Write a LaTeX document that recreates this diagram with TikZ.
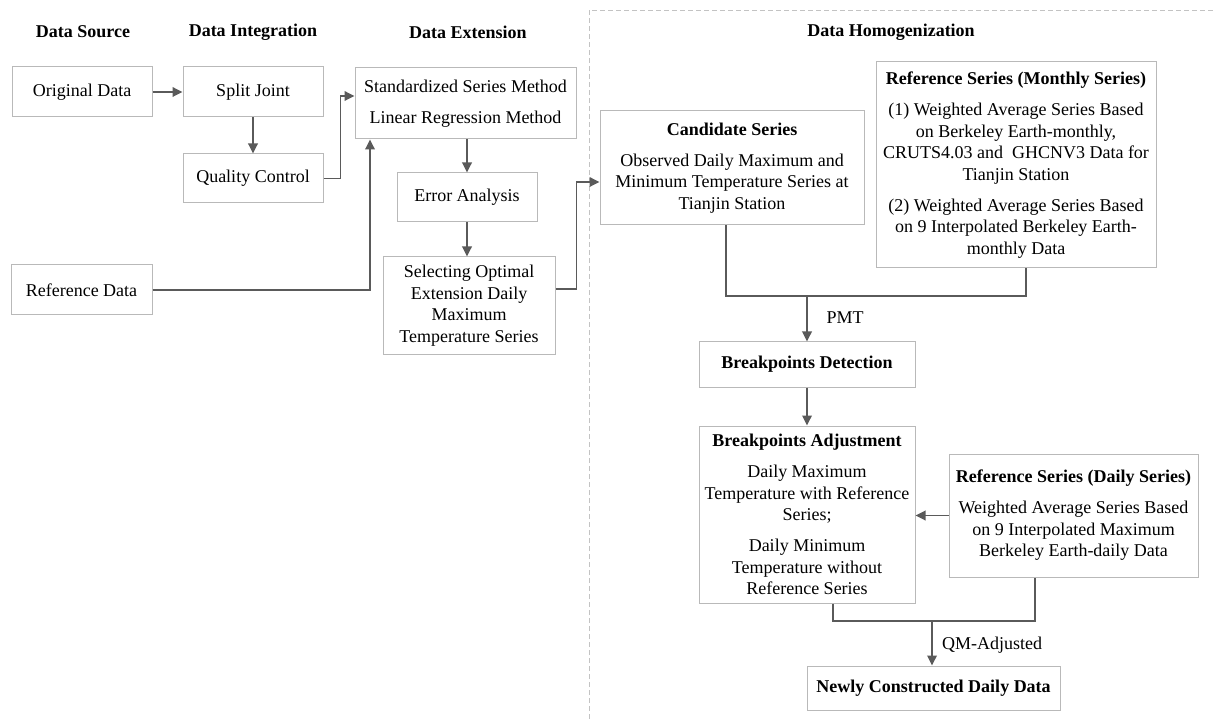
\documentclass[tikz,border=0pt]{standalone}
\usepackage{fontspec}
\setmainfont{Liberation Serif}
\usetikzlibrary{arrows.meta,calc}
\definecolor{boxgray}{RGB}{185,185,185}
\definecolor{arrgray}{RGB}{90,90,90}
\definecolor{dashgray}{RGB}{195,195,195}
\newcommand{\fsz}{\fontsize{18}{21.5}\selectfont}
\begin{document}
\begin{tikzpicture}[x=1pt,y=-1pt,
  box/.style={draw=boxgray, line width=1pt, fill=white, inner sep=0pt, align=center, font=\fsz},
  head/.style={inner sep=0pt, font=\fsz\bfseries},
  lbl/.style={inner sep=0pt, font=\fsz},
  arr/.style={draw=arrgray, line width=1.8pt, -{Triangle[length=10pt,width=9.5pt]}},
  conn/.style={draw=arrgray, line width=1.8pt},
  dashframe/.style={draw=dashgray, line width=0.9pt, dash pattern=on 5pt off 3pt}]
\fill[white] (0,0) rectangle (1213,719);
\useasboundingbox (0,0) rectangle (1213,719);

% frame of homogenization area
\draw[dashframe] (589,719) -- (589,10) -- (1213,10);

% headers
\node[head] (h1) at (83,32) {Data Source};
\node[head] (h2) at (253,32) {Data Integration};
\node[head] (h3) at (468,32) {Data Extension};
\node[head] (h4) at (891,32) {Data Homogenization};

% left part
\node[box, minimum width=140pt, minimum height=50pt] (orig) at (82,92) {Original Data};
\node[box, minimum width=140pt, minimum height=50pt] (split) at (253,92) {Split Joint};
\node[box, minimum width=140pt, minimum height=49pt] (qc) at (253,178.5) {Quality Control};
\node[box, minimum width=141pt, minimum height=50pt] (ref) at (81.5,290) {Reference Data};
\node[box, minimum width=221pt, minimum height=71pt] (std) at (465.5,103.5) {Standardized Series Method\\[9.5pt]Linear Regression Method};
\node[box, minimum width=140pt, minimum height=49pt] (err) at (467,197.5) {Error Analysis};
\node[box, minimum width=172pt, minimum height=97pt] (sel) at (469,305.5) {Selecting Optimal\\Extension Daily\\Maximum\\Temperature Series};

% right part
\node[box, minimum width=264pt, minimum height=114pt] (cand) at (732,168) {\textbf{Candidate Series}\\[9.5pt]Observed Daily Maximum and\\Minimum Temperature Series at\\Tianjin Station};
\node[box, minimum width=280pt, minimum height=206pt] (mon) at (1016,165) {\textbf{Reference Series (Monthly Series)}\\[9.5pt](1) Weighted Average Series Based\\on Berkeley Earth-monthly,\\CRUTS4.03 and\ \ GHCNV3 Data for\\Tianjin Station\\[9.5pt](2) Weighted Average Series Based\\on 9 Interpolated Berkeley Earth-\\monthly Data};
\node[box, minimum width=216pt, minimum height=45pt, font=\fsz\bfseries] (det) at (807,364.5) {Breakpoints Detection};
\node[box, minimum width=216pt, minimum height=177pt] (adj) at (807,514.5) {\textbf{Breakpoints Adjustment}\\[9.5pt]Daily Maximum\\Temperature with Reference\\Series;\\[9.5pt]Daily Minimum\\Temperature without\\Reference Series};
\node[box, minimum width=249pt, minimum height=123pt] (daily) at (1073.5,515.5) {\textbf{Reference Series (Daily Series)}\\[9.5pt]Weighted Average Series Based\\on 9 Interpolated Maximum\\Berkeley Earth-daily Data};
\node[box, minimum width=253pt, minimum height=44pt, font=\fsz\bfseries] (new) at (933.5,688) {Newly Constructed Daily Data};

% labels
\node[lbl] (pmt) at (845,318) {PMT};
\node[lbl] (qm) at (992,645) {QM-Adjusted};

% connectors, left part
\draw[arr] (orig) -- (split);
\draw[arr] (split) -- (qc);
\draw[arr] (qc.east) -- ++(17,0) |- ([yshift=7.5pt]std.west);
\draw[arr] (ref.east) -| ([xshift=-95.5pt]std.south);
\draw[arr] (std.south -| err.north) -- (err.north);
\draw[arr] (err.south) -- (err.south |- sel.north);
\draw[arr] ([yshift=16.5pt]sel.east) -- ++(21,0) |- ([yshift=-14pt]cand.west);

% connectors, right part
\coordinate (j1) at (807,296);
\coordinate (cb) at ([xshift=-6pt]cand.south);
\coordinate (mb) at ([xshift=10pt]mon.south);
\draw[conn] (cb) |- (mb |- j1) -- (mb);
\draw[arr] (j1) -- (det.north);
\draw[arr] (det.south) -- (adj.north);
\draw[arr] (daily.west) -- (daily.west -| adj.east);
\coordinate (j2) at (932,621);
\coordinate (ab) at ([xshift=26pt]adj.south);
\coordinate (db) at ([xshift=-38.5pt]daily.south);
\draw[conn] (ab) |- (db |- j2) -- (db);
\draw[arr] (j2) -- (j2 |- new.north);
\end{tikzpicture}
\end{document}
